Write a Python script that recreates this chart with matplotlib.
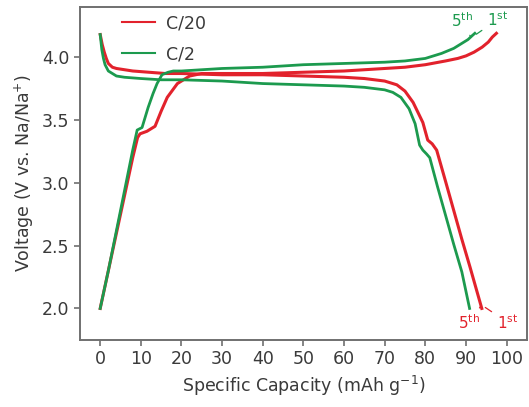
import matplotlib
matplotlib.use("Agg")
import matplotlib.pyplot as plt

# charge / discharge profiles (capacity in mAh/g, voltage in V)
red_charge_x = [0, 2, 4, 6, 8, 9.2, 9.8, 11.5, 13.5, 15, 16.5, 19, 22, 25, 30, 40, 50, 60,
                70, 75, 80, 85, 88, 90, 92, 94, 95.5, 96.5, 97.5]
red_charge_y = [2.00, 2.30, 2.60, 2.90, 3.20, 3.36, 3.39, 3.41, 3.45, 3.57, 3.68, 3.79, 3.85,
                3.87, 3.87, 3.87, 3.88, 3.89, 3.91, 3.92, 3.94, 3.97, 3.99, 4.01, 4.04,
                4.08, 4.12, 4.16, 4.19]

green_charge_x = [0, 2, 4, 6, 8, 9.1, 10.3, 11.8, 13, 14, 15.2, 16.7, 18, 20, 30, 40, 50, 60,
                  70, 75, 80, 84, 87, 89, 90.5, 91.5, 92.2]
green_charge_y = [2.00, 2.30, 2.62, 2.94, 3.26, 3.42, 3.44, 3.60, 3.71, 3.79, 3.86, 3.88,
                  3.89, 3.89, 3.91, 3.92, 3.94, 3.95, 3.96, 3.97, 3.99, 4.03, 4.07, 4.11,
                  4.14, 4.17, 4.19]

red_dis_x = [0, 0.5, 1, 1.5, 2, 3, 4, 6, 8, 12, 16, 20, 30, 40, 50, 60, 65, 70, 73, 75, 77,
             79.4, 80.6, 81.7, 82.8, 85, 87, 89, 91, 93.9]
red_dis_y = [4.18, 4.10, 4.04, 3.99, 3.95, 3.92, 3.91, 3.90, 3.89, 3.88, 3.87, 3.87, 3.86,
             3.86, 3.85, 3.84, 3.83, 3.81, 3.78, 3.73, 3.64, 3.48, 3.34, 3.31, 3.26, 3.01,
             2.78, 2.55, 2.33, 2.00]

green_dis_x = [0, 0.4, 0.8, 1.2, 2, 3, 4, 6, 10, 15, 20, 30, 40, 50, 60, 65, 70, 72, 74, 76,
               77.5, 78.6, 79.4, 80.3, 81.1, 83, 85, 87, 89, 90.9]
green_dis_y = [4.18, 4.06, 3.99, 3.94, 3.89, 3.87, 3.85, 3.84, 3.83, 3.82, 3.82, 3.81, 3.79,
               3.78, 3.77, 3.76, 3.74, 3.72, 3.68, 3.59, 3.47, 3.30, 3.26, 3.23, 3.20, 2.97,
               2.74, 2.51, 2.29, 2.00]

x_ticks = [0, 10, 20, 30, 40, 50, 60, 70, 80, 90, 100]
y_ticks = [2.0, 2.5, 3.0, 3.5, 4.0]

red = '#e2222c'
green = '#1c9a4e'

fig = plt.figure(figsize=(5.29, 4.07), dpi=100)
ax = fig.add_axes([0.151, 0.165, 0.845, 0.818])

ax.plot(red_charge_x, red_charge_y, color=red, lw=2.2, label='C/20')
ax.plot(red_dis_x, red_dis_y, color=red, lw=2.2)
ax.plot(green_charge_x, green_charge_y, color=green, lw=2.0, label='C/2')
ax.plot(green_dis_x, green_dis_y, color=green, lw=2.0)

ax.set_xlim(-5, 105)
ax.set_ylim(1.75, 4.4)
ax.set_xticks(x_ticks)
ax.set_yticks(y_ticks)
ax.set_yticklabels(['{:.1f}'.format(v) for v in y_ticks])

for s in ax.spines.values():
    s.set_color('#707070')
    s.set_linewidth(1.4)
ax.tick_params(direction='out', length=4, width=1.2, color='#707070',
               labelcolor='#3a3a3a', labelsize=12.5)

ax.set_xlabel('Specific Capacity (mAh g$^{-1}$)', fontsize=12.5, color='#3a3a3a')
ax.set_ylabel('Voltage (V vs. Na/Na$^{+}$)', fontsize=12.5, color='#3a3a3a')

leg = ax.legend(loc='upper left', bbox_to_anchor=(0.06, 1.025), frameon=False,
                handlelength=1.9, handletextpad=0.6, labelspacing=0.75, fontsize=12.5)
for t in leg.get_texts():
    t.set_color('#3a3a3a')
for h in leg.get_lines():
    h.set_linewidth(1.5)

# cycle labels at the ends of the curves
arrow_g = dict(arrowstyle='-', color=green, lw=0.9)
arrow_r = dict(arrowstyle='-', color=red, lw=0.9)
ax.annotate(r'5$\mathregular{^{th}}$', xy=(91.2, 4.16), xytext=(89, 4.29), color=green,
            fontsize=11, ha='center', va='center', arrowprops=arrow_g)
ax.annotate(r'1$\mathregular{^{st}}$', xy=(92.0, 4.17), xytext=(97.8, 4.30), color=green,
            fontsize=11, ha='center', va='center', arrowprops=arrow_g)
ax.annotate(r'5$\mathregular{^{th}}$', xy=(93.7, 2.02), xytext=(90.7, 1.89), color=red,
            fontsize=11, ha='center', va='center', arrowprops=arrow_r)
ax.annotate(r'1$\mathregular{^{st}}$', xy=(94.2, 2.02), xytext=(100.2, 1.89), color=red,
            fontsize=11, ha='center', va='center', arrowprops=arrow_r)

fig.savefig('out.png', dpi=100)
